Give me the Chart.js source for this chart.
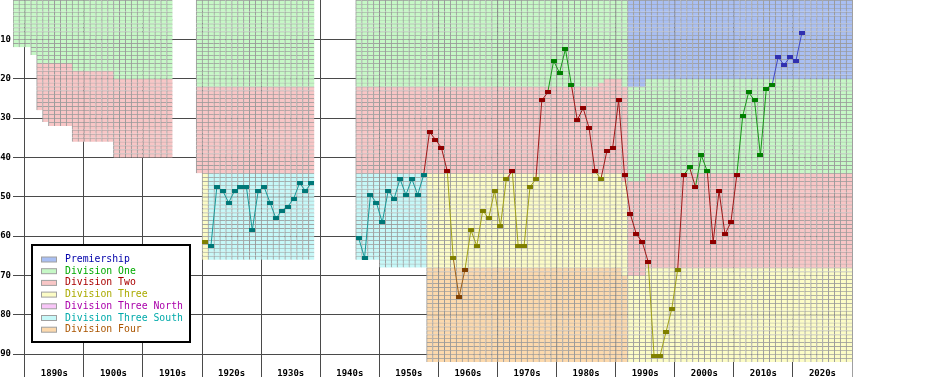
<!DOCTYPE html>
<html>
<head>
<meta charset="utf-8">
<script src="https://cdn.jsdelivr.net/npm/chart.js@4.4.0/dist/chart.umd.min.js"></script>
<style>
  html, body { margin: 0; padding: 0; background: #fff; }
</style>
</head>
<body>
<canvas id="chart" width="948" height="384"></canvas>
<script>
// league structure: season an era starts, divisions top to bottom, and their sizes
const eraStart = [1888, 1891, 1892, 1893, 1894, 1898, 1905, 1915, 1919, 1920, 1921, 1939, 1946, 1950, 1958, 1987, 1988, 1991, 1992, 1995];
const eraDivs = [
  ['one'], ['one'], ['one', 'two'], ['one', 'two'], ['one', 'two'], ['one', 'two'], ['one', 'two'], [],
  ['one', 'two'], ['one', 'two', 'three'], ['one', 'two', 'south'], [], ['one', 'two', 'south'], ['one', 'two', 'south'],
  ['one', 'two', 'three', 'four'], ['one', 'two', 'three', 'four'], ['one', 'two', 'three', 'four'], ['one', 'two', 'three', 'four'],
  ['prem', 'one', 'two', 'three'], ['prem', 'one', 'two', 'three']
];
const eraSizes = [
  [12], [14], [16, 12], [16, 15], [16, 16], [18, 18], [20, 20], [],
  [22, 22], [22, 22, 22], [22, 22, 22], [], [22, 22, 22], [22, 22, 24],
  [22, 22, 24, 24], [21, 23, 24, 24], [20, 24, 24, 24], [22, 24, 24, 22],
  [22, 24, 24, 22], [20, 24, 24, 24]
];
const firstSeason = 1888;
const lastSeason = 2029;
const maxRows = 92;

// the club: overall league position per season, from 1920-21
const clubFirst = 1920;
const clubPos = [
  62, 63, 48, 49, 52, 49, 48, 48, 59, 49,     // 1920s
  48, 52, 56, 54, 53, 51, 47, 49, 47, null,   // 1930s
  null, null, null, null, null, null, 61, 66, 50, 52, // 1940s
  57, 49, 51, 46, 50, 46, 50, 45, 34, 36,     // 1950s
  38, 44, 66, 76, 69, 59, 63, 54, 56, 49,     // 1960s
  58, 46, 44, 63, 63, 48, 46, 26, 24, 16,     // 1970s
  19, 13, 22, 31, 28, 33, 44, 46, 39, 38,     // 1980s
  26, 45, 55, 60, 62, 67, 91, 91, 85, 79,     // 1990s
  69, 45, 43, 48, 40, 44, 62, 49, 60, 57,     // 2000s
  45, 30, 24, 26, 40, 23, 22, 15, 17, 15,     // 2010s
  16, 9                                       // 2020s
];

const divKeys = ['prem', 'one', 'two', 'three', 'north', 'south', 'four'];
const divNames = ['Premiership', 'Division One', 'Division Two', 'Division Three', 'Division Three North', 'Division Three South', 'Division Four'];
const cellColors = ['#a9bff3', '#c6f8c6', '#f8c6c6', '#fcfcc6', '#f8c6f8', '#c6f8f8', '#fcd9ad'];
const lineColors = ['#4048c8', '#189818', '#a01818', '#a0a018', '#a018a0', '#189898', '#a06018'];
const markColors = ['#3030b0', '#008000', '#900000', '#808000', '#800080', '#007878', '#804000'];
const textColors = ['#0000aa', '#00aa00', '#aa0000', '#aaaa00', '#aa00aa', '#00aaaa', '#aa5500'];

const yTicks = [10, 20, 30, 40, 50, 60, 70, 80, 90];
const decadeTicks = [];
for (let v = 1890; v <= 2030; v += 5) decadeTicks.push(v);

const seasons = [];
for (let s = firstSeason; s <= lastSeason; s++) seasons.push(s);

function eraOf(s) {
  let e = 0;
  for (let i = 0; i < eraStart.length; i++) if (eraStart[i] <= s) e = i;
  return e;
}

// which division holds overall row r in season s
function divAt(s, r) {
  const e = eraOf(s);
  let top = 0;
  for (let i = 0; i < eraSizes[e].length; i++) {
    if (r > top && r <= top + eraSizes[e][i]) return eraDivs[e][i];
    top += eraSizes[e][i];
  }
  return null;
}

const datasets = [];
for (let r = 1; r <= maxRows; r++) {
  const data = [], bg = [];
  seasons.forEach(s => {
    const k = divAt(s, r);
    data.push(k ? 1 : null);
    bg.push(k ? cellColors[divKeys.indexOf(k)] : 'rgba(0,0,0,0)');
  });
  datasets.push({
    type: 'bar',
    data: data,
    backgroundColor: bg,
    borderColor: '#9a9a9a',
    borderWidth: {top: 1, left: 1, right: 0, bottom: 0},
    borderSkipped: false,
    barPercentage: 1,
    categoryPercentage: 1,
    xAxisID: 'x',
    yAxisID: 'y'
  });
}

const clubY = [], clubDiv = [];
seasons.forEach(s => {
  const p = (s >= clubFirst && s - clubFirst < clubPos.length) ? clubPos[s - clubFirst] : null;
  // plot at the centre of the position's cell
  clubY.push(p === null ? null : p - 0.5);
  clubDiv.push(p === null ? 0 : divKeys.indexOf(divAt(s, p)));
});

const markers = markColors.map(c => {
  const cv = document.createElement('canvas');
  cv.width = 6; cv.height = 4;
  const g = cv.getContext('2d');
  g.fillStyle = c;
  g.fillRect(0, 0, 6, 4);
  return cv;
});

datasets.push({
  type: 'line',
  data: clubY,
  borderWidth: 1,
  borderColor: '#189898',
  segment: {
    borderColor: c => lineColors[clubDiv[c.p1DataIndex]]
  },
  pointStyle: c => markers[clubDiv[c.dataIndex]],
  pointRadius: 3,
  spanGaps: false,
  tension: 0,
  xAxisID: 'x',
  yAxisID: 'y2',
  order: -1
});

const tickFont = {family: 'DejaVu Sans Mono', size: 9, weight: 'bold'};

const lateLine = {
  id: 'lateLine',
  beforeDatasetDraw(chart, args) {
    if (args.meta.type === 'line') return false;
  },
  afterDraw(chart) {
    const ctx = chart.ctx;
    const meta = chart.getDatasetMeta(chart.data.datasets.length - 1);
    meta.controller.draw();

    // legend box
    ctx.save();
    ctx.fillStyle = '#fff';
    ctx.fillRect(31, 244, 160, 99);
    ctx.strokeStyle = '#000';
    ctx.lineWidth = 2;
    ctx.strokeRect(32, 245, 158, 97);
    ctx.font = '9.8px "DejaVu Sans Mono"';
    ctx.textBaseline = 'middle';
    divNames.forEach((name, i) => {
      const y = 259.5 + i * 11.7;
      ctx.fillStyle = cellColors[i];
      ctx.fillRect(41, y - 2.5, 16, 5);
      ctx.strokeStyle = '#a0a0a0';
      ctx.lineWidth = 1;
      ctx.strokeRect(41.5, y - 2.5, 15, 5);
      ctx.fillStyle = textColors[i];
      ctx.fillText(name, 65, y);
    });
    ctx.restore();
  }
};

new Chart(document.getElementById('chart'), {
  data: {labels: seasons.map(String), datasets: datasets},
  options: {
    responsive: false,
    animation: false,
    events: [],
    devicePixelRatio: 1,
    layout: {autoPadding: false, padding: {left: 0, top: 0, right: 96, bottom: 0}},
    plugins: {legend: {display: false}, tooltip: {enabled: false}},
    scales: {
      x: {
        type: 'category',
        display: false,
        stacked: true,
        offset: true
      },
      xd: {
        type: 'linear',
        position: 'bottom',
        min: 1888,
        max: 2030,
        z: 1,
        afterBuildTicks: s => { s.ticks = decadeTicks.map(v => ({value: v})); },
        afterFit: s => { s.height = 22; s.paddingLeft = 0; s.paddingRight = 0; },
        grid: {
          color: c => (c.tick && c.tick.value % 10 === 0) ? (c.tick.value === 2030 ? '#a0a0a0' : '#4a4a4a') : 'rgba(0,0,0,0)',
          drawTicks: true,
          tickLength: 15
        },
        border: {display: false},
        ticks: {
          autoSkip: false,
          maxRotation: 0,
          padding: -9,
          color: '#000',
          font: tickFont,
          callback: v => (v % 10 === 5) ? (v - 5) + 's' : ''
        }
      },
      y: {
        type: 'linear',
        position: 'left',
        stacked: true,
        reverse: true,
        min: 0,
        max: maxRows,
        z: 1,
        afterBuildTicks: s => { s.ticks = yTicks.map(v => ({value: v})); },
        afterFit: s => { s.width = 13; s.paddingTop = 0; s.paddingBottom = 0; },
        grid: {color: '#4a4a4a', drawTicks: false},
        border: {display: false},
        ticks: {color: '#000', font: tickFont, padding: 2}
      },
      y2: {
        type: 'linear',
        display: false,
        reverse: true,
        min: 0,
        max: maxRows
      }
    }
  },
  plugins: [lateLine]
});
</script>
</body>
</html>
